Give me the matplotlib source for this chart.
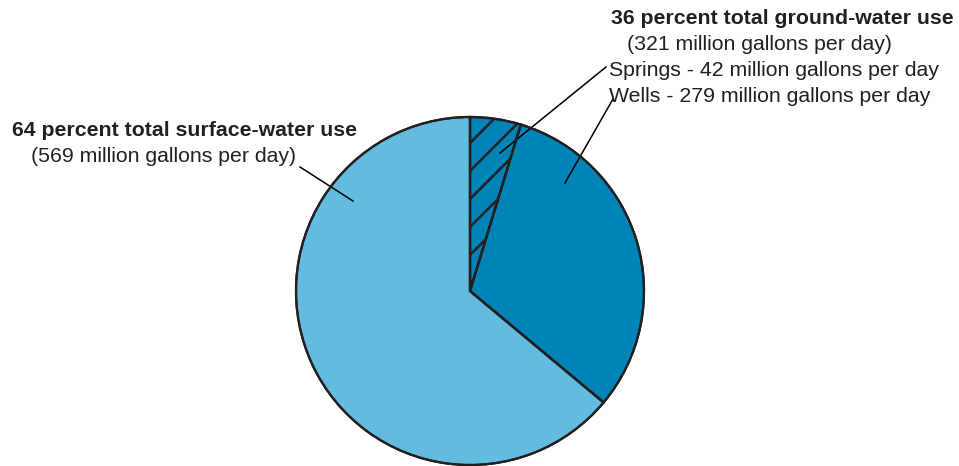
import numpy as np
import matplotlib
matplotlib.use('Agg')
import matplotlib.pyplot as plt
from matplotlib.patches import Wedge

# water use, million gallons per day
sources = ['Springs', 'Wells', 'Surface water']
mgd = [42, 279, 569]
colors = ['#0083b7', '#0083b7', '#63bce0']
edge = '#231f20'

plt.rcParams['font.family'] = ['Liberation Sans', 'DejaVu Sans']

W, H = 959, 466
fig = plt.figure(figsize=(W / 100, H / 100), dpi=100)
ax = fig.add_axes([0, 0, 1, 1])

cx, cy, R = 470, 466 - 291, 174
wedges, _ = ax.pie(mgd, colors=colors, startangle=90, counterclock=False,
                   center=(cx, cy), radius=R,
                   wedgeprops=dict(edgecolor=edge, linewidth=1.6))
ax.set_xlim(0, W)
ax.set_ylim(0, H)
ax.set_aspect('equal')
ax.axis('off')

# hatch the springs wedge with diagonal lines
sp = wedges[0]
xs = np.array([cx - R, cx + R])
for off in np.arange(-20, 12) * 28 + 8:
    ln, = ax.plot(xs, cy + (xs - cx) + off, color=edge, lw=1.8, zorder=3)
    ln.set_clip_path(sp)
# redraw wedge outlines on top
for w in wedges:
    ax.add_patch(Wedge(w.center, w.r, w.theta1, w.theta2, fill=False,
                       edgecolor=edge, lw=1.6, zorder=4))

# leader lines
lk = dict(color='black', lw=1.1)
ax.plot([300, 353], [466 - 167, 466 - 201], **lk)
ax.plot([606, 500], [466 - 67, 466 - 153], **lk)
ax.plot([613, 565], [466 - 99, 466 - 183], **lk)

fs = 15.3
tc = '#231f20'
ax.text(611, 466 - 18, '36 percent total ground-water use', fontsize=fs,
        fontweight='bold', va='center', ha='left', color=tc)
ax.text(627, 466 - 44, '(321 million gallons per day)', fontsize=fs,
        va='center', ha='left', color=tc)
ax.text(609, 466 - 70, 'Springs - %d million gallons per day' % mgd[0],
        fontsize=fs, va='center', ha='left', color=tc)
ax.text(609, 466 - 96, 'Wells - %d million gallons per day' % mgd[1],
        fontsize=fs, va='center', ha='left', color=tc)
ax.text(12, 466 - 130, '64 percent total surface-water use', fontsize=fs,
        fontweight='bold', va='center', ha='left', color=tc)
ax.text(31, 466 - 156, '(%d million gallons per day)' % mgd[2], fontsize=fs,
        va='center', ha='left', color=tc)

fig.savefig('out.png', dpi=100)
